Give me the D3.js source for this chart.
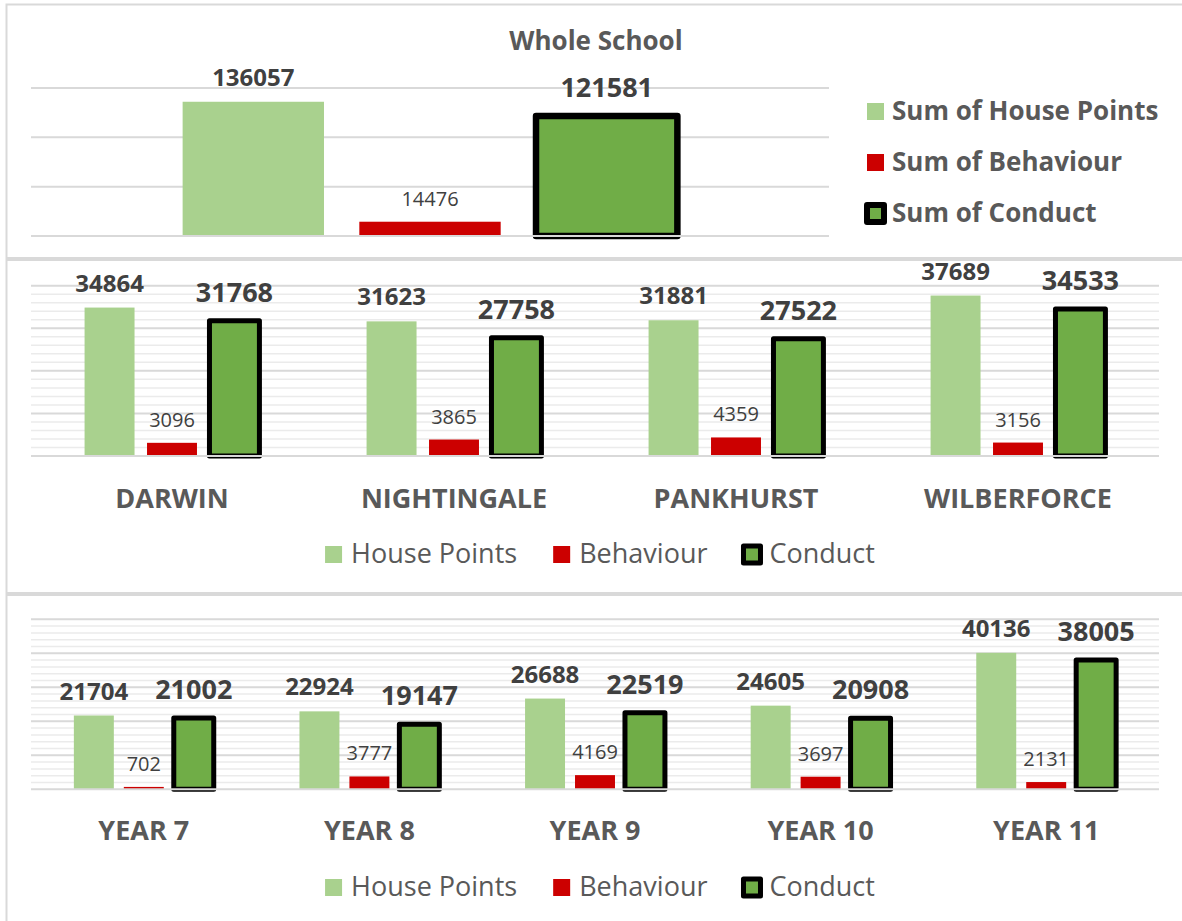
<!DOCTYPE html>
<html>
<head>
<meta charset="utf-8" />
<title>Whole School</title>
<script src="https://cdn.jsdelivr.net/npm/d3@7"></script>
<style>
    body { margin: 0; background: #fff; }
    svg text { font-family: "Open Sans", Lato, sans-serif; }
    .grid-major { stroke: #d9d9d9; stroke-width: 2; }
    .grid-minor { stroke: #ebebeb; stroke-width: 1.5; }
    .frame { fill: none; stroke: #d9d9d9; stroke-width: 2; }
</style>
</head>
<body>
<svg width="1182" height="921"></svg>
<script>
    var seriesNames = ["House Points", "Behaviour", "Conduct"];
    var colours = ["#a9d18e", "#cc0000", "#70ad47"];

    // whole school totals
    var schoolCats = ["Whole School"];
    var schoolHousePoints = [136057];
    var schoolBehaviour = [14476];
    var schoolConduct = [121581];

    // by house
    var houses = ["DARWIN", "NIGHTINGALE", "PANKHURST", "WILBERFORCE"];
    var houseHousePoints = [34864, 31623, 31881, 37689];
    var houseBehaviour = [3096, 3865, 4359, 3156];
    var houseConduct = [31768, 27758, 27522, 34533];

    // by year group
    var years = ["YEAR 7", "YEAR 8", "YEAR 9", "YEAR 10", "YEAR 11"];
    var yearHousePoints = [21704, 22924, 26688, 24605, 40136];
    var yearBehaviour = [702, 3777, 4169, 3697, 2131];
    var yearConduct = [21002, 19147, 22519, 20908, 38005];

    var svg = d3.select("svg");

    // panel frames
    svg.append("rect").attr("class", "frame").attr("x", 6.5).attr("y", 4.5).attr("width", 1200).attr("height", 253.5);
    svg.append("rect").attr("class", "frame").attr("x", 6.5).attr("y", 260).attr("width", 1200).attr("height", 333);
    svg.append("rect").attr("class", "frame").attr("x", 6.5).attr("y", 595).attr("width", 1200).attr("height", 340);

    // label styles per series: size, weight, gap above bar
    var labelSize = [24, 20, 27];
    var labelWeight = ["bold", "normal", "bold"];
    var labelGap = [16, 16, 19];

    function drawPanel(cfg) {
        var g = svg.append("g");
        var x0 = d3.scaleBand().domain(cfg.cats).range(cfg.xRange).paddingInner(0.38).paddingOuter(0.19);
        var x1 = d3.scaleBand().domain(seriesNames).range([0, x0.bandwidth()]).paddingInner(0.2);
        var y = d3.scaleLinear().domain([0, cfg.max]).range(cfg.yRange);

        var majors = y.ticks(cfg.majorCount);
        if (cfg.minorCount) {
            var minors = y.ticks(cfg.minorCount).filter(function (t) { return majors.indexOf(t) < 0; });
            g.selectAll(".grid-minor").data(minors).enter().append("line")
                .attr("class", "grid-minor")
                .attr("x1", cfg.xRange[0]).attr("x2", cfg.xRange[1])
                .attr("y1", function (d) { return y(d); }).attr("y2", function (d) { return y(d); });
        }
        g.selectAll(".grid-major").data(majors.filter(function (t) { return t > 0; })).enter().append("line")
            .attr("class", "grid-major")
            .attr("x1", cfg.xRange[0]).attr("x2", cfg.xRange[1])
            .attr("y1", function (d) { return y(d); }).attr("y2", function (d) { return y(d); });

        var rows = [];
        cfg.cats.forEach(function (c, i) {
            cfg.values.forEach(function (arr, s) {
                rows.push({ cat: c, s: s, key: seriesNames[s], value: arr[i] });
            });
        });

        g.selectAll(".bar").data(rows).enter().append("rect")
            .attr("class", "bar")
            .attr("x", function (d) { return x0(d.cat) + x1(d.key); })
            .attr("y", function (d) { return y(d.value); })
            .attr("width", x1.bandwidth())
            .attr("height", function (d) { return y(0) - y(d.value); })
            .attr("fill", function (d) { return colours[d.s]; })
            .attr("stroke", function (d) { return d.s == 2 ? "#000" : "none"; })
            .attr("stroke-width", cfg.stroke)
            .attr("stroke-linejoin", "round");

        // baseline over the bar feet
        g.append("line").attr("class", "grid-major")
            .attr("x1", cfg.xRange[0]).attr("x2", cfg.xRange[1])
            .attr("y1", y(0)).attr("y2", y(0));

        g.selectAll(".lbl").data(rows).enter().append("text")
            .attr("class", "lbl")
            .attr("x", function (d) { return x0(d.cat) + x1(d.key) + x1.bandwidth() / 2; })
            .attr("y", function (d) { return y(d.value) - labelGap[d.s]; })
            .attr("text-anchor", "middle")
            .attr("fill", "#404040")
            .style("font-size", function (d) { return labelSize[d.s] + "px"; })
            .style("font-weight", function (d) { return labelWeight[d.s]; })
            .text(function (d) { return d.value; });

        if (cfg.catY) {
            g.selectAll(".cat").data(cfg.cats).enter().append("text")
                .attr("x", function (d) { return x0(d) + x0.bandwidth() / 2; })
                .attr("y", cfg.catY)
                .attr("text-anchor", "middle")
                .attr("fill", "#595959")
                .style("font-size", "27px").style("font-weight", "bold")
                .text(function (d) { return d; });
        }
        return g;
    }

    function legendRow(baseY, centreX) {
        var g = svg.append("g");
        var items = seriesNames.map(function (name, i) {
            var it = g.append("g");
            it.append("rect").attr("x", 0).attr("y", baseY - 17).attr("width", 17).attr("height", 17)
                .attr("fill", colours[i])
                .attr("stroke", i == 2 ? "#000" : "none").attr("stroke-width", 5)
                .attr("stroke-linejoin", "round");
            var t = it.append("text").attr("x", 26).attr("y", baseY)
                .attr("fill", "#595959").style("font-size", "27px").text(name);
            return { g: it, w: 26 + t.node().getComputedTextLength() };
        });
        var total = d3.sum(items, function (d) { return d.w; }) + 36 * (items.length - 1);
        var x = centreX - total / 2;
        items.forEach(function (it) {
            it.g.attr("transform", "translate(" + x + ",0)");
            x += it.w + 36;
        });
    }

    // top panel: whole school
    svg.append("text").attr("x", 596).attr("y", 50).attr("text-anchor", "middle")
        .attr("fill", "#595959").style("font-size", "26px").style("font-weight", "bold")
        .text("Whole School");

    drawPanel({
        cats: schoolCats,
        values: [schoolHousePoints, schoolBehaviour, schoolConduct],
        xRange: [31, 829], yRange: [236, 88], max: 150000,
        majorCount: 3, minorCount: 0, stroke: 6.5
    });

    var topLegend = svg.append("g");
    seriesNames.forEach(function (name, i) {
        var by = 120 + i * 51;
        topLegend.append("rect").attr("x", 867).attr("y", by - 17).attr("width", 17).attr("height", 17)
            .attr("fill", colours[i])
            .attr("stroke", i == 2 ? "#000" : "none").attr("stroke-width", 6)
            .attr("stroke-linejoin", "round");
        topLegend.append("text").attr("x", 892).attr("y", by)
            .attr("fill", "#595959").style("font-size", "26px").style("font-weight", "bold")
            .text("Sum of " + name);
    });

    // middle panel: houses
    drawPanel({
        cats: houses,
        values: [houseHousePoints, houseBehaviour, houseConduct],
        xRange: [31, 1159], yRange: [456, 285.7], max: 40000,
        majorCount: 4, minorCount: 20, stroke: 5, catY: 508
    });
    legendRow(563, 600);

    // bottom panel: year groups
    drawPanel({
        cats: years,
        values: [yearHousePoints, yearBehaviour, yearConduct],
        xRange: [31, 1159], yRange: [789.3, 619.3], max: 50000,
        majorCount: 5, minorCount: 25, stroke: 5, catY: 840
    });
    legendRow(896, 600);
</script>
</body>
</html>
